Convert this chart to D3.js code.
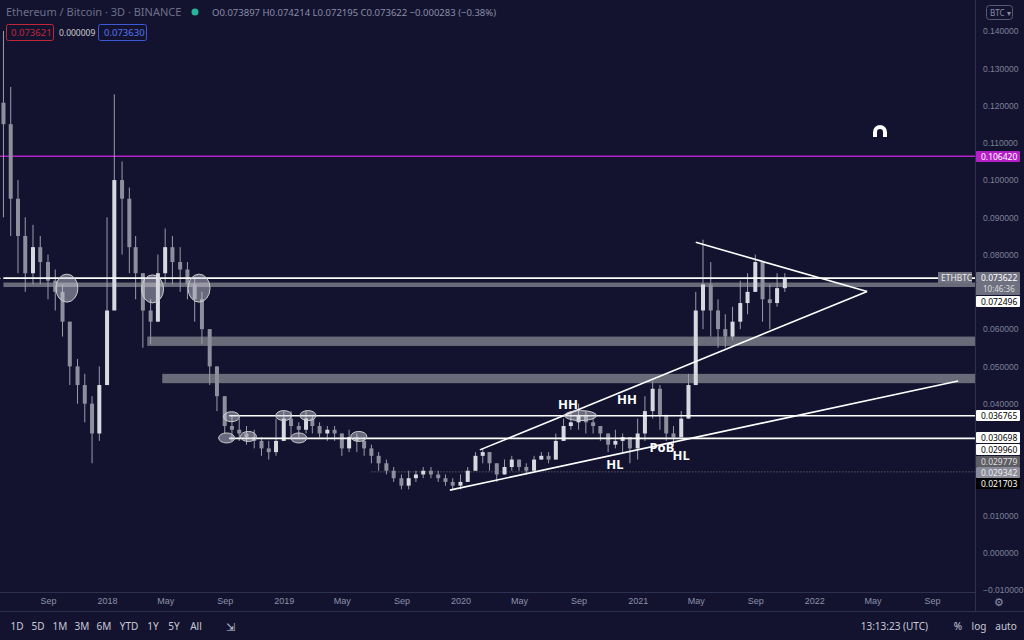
<!DOCTYPE html><html><head><meta charset="utf-8">
<script src="https://cdn.jsdelivr.net/npm/d3@7"></script>
<style>body{margin:0;background:#131330;overflow:hidden}svg{display:block;font-family:"Noto Sans",sans-serif}</style></head><body>
<svg id="c" width="1024" height="640"></svg>
<script>
const dates=["2017-06-01","2017-06-16","2017-07-01","2017-07-16","2017-08-01","2017-08-16","2017-09-01","2017-09-16","2017-10-01","2017-10-16","2017-11-01","2017-11-16","2017-12-01","2017-12-16",
"2018-01-01","2018-01-16","2018-02-01","2018-02-16","2018-03-01","2018-03-16","2018-04-01","2018-04-16","2018-05-01","2018-05-16","2018-06-01","2018-06-16","2018-07-01","2018-07-16","2018-08-01","2018-08-16","2018-09-01","2018-09-16","2018-10-01","2018-10-16","2018-11-01","2018-11-16","2018-12-01","2018-12-16",
"2019-01-01","2019-01-16","2019-02-01","2019-02-16","2019-03-01","2019-03-16","2019-04-01","2019-04-16","2019-05-01","2019-05-16","2019-06-01","2019-06-16","2019-07-01","2019-07-16","2019-08-01","2019-08-16","2019-09-01","2019-09-16","2019-10-01","2019-10-16","2019-11-01","2019-11-16","2019-12-01","2019-12-16",
"2020-01-01","2020-01-16","2020-02-01","2020-02-16","2020-03-01","2020-03-16","2020-04-01","2020-04-16","2020-05-01","2020-05-16","2020-06-01","2020-06-16","2020-07-01","2020-07-16","2020-08-01","2020-08-16","2020-09-01","2020-09-16","2020-10-01","2020-10-16","2020-11-01","2020-11-16","2020-12-01","2020-12-16",
"2021-01-01","2021-01-16","2021-02-01","2021-02-16","2021-03-01","2021-03-16","2021-04-01","2021-04-16","2021-05-01","2021-05-16","2021-06-01","2021-06-16","2021-07-01","2021-07-16","2021-08-01","2021-08-16","2021-09-01","2021-09-16","2021-10-01","2021-10-16","2021-11-01"];
const closes=[.115,.095,.085,.075,.082,.078,.073,.070,.062,.050,.045,.040,.032,.045,
.065,.100,.095,.082,.075,.065,.062,.075,.082,.078,.076,.072,.068,.060,.050,.042,.034,.033,.032,.031,.030,.028,.027,.030,
.036,.034,.033,.036,.034,.032,.033,.032,.028,.031,.030,.028,.026,.024,.022,.020,.018,.020,.021,.022,.021,.020,.019,.018,
.019,.022,.026,.027,.024,.021,.023,.025,.023,.022,.025,.026,.025,.030,.034,.035,.037,.035,.034,.032,.029,.030,.031,.028,
.032,.038,.044,.037,.032,.031,.036,.045,.065,.072,.065,.060,.058,.062,.067,.070,.078,.068,.067,.071,.0736];
const highs=[.140,.125,.100,.090,.088,.085,.080,.076,.072,.062,.052,.048,.042,.050,
.090,.123,.105,.098,.085,.075,.068,.080,.087,.085,.082,.078,.074,.070,.060,.050,.042,.037,.036,.034,.033,.031,.030,.036,
.038,.038,.035,.038,.037,.035,.034,.034,.032,.033,.032,.031,.029,.027,.025,.023,.021,.022,.022,.023,.023,.022,.021,.020,
.021,.023,.027,.028,.027,.024,.025,.026,.025,.024,.026,.027,.027,.032,.036,.038,.040,.038,.036,.034,.032,.033,.032,.031,
.036,.042,.046,.045,.037,.034,.038,.048,.070,.084,.078,.068,.064,.066,.073,.075,.080,.076,.072,.075,.075];
const lows=[.090,.085,.075,.070,.072,.072,.068,.065,.058,.045,.040,.035,.024,.030,
.045,.085,.080,.075,.068,.055,.056,.062,.072,.072,.070,.068,.062,.056,.045,.038,.032,.030,.030,.029,.028,.026,.025,.026,
.030,.031,.031,.032,.032,.031,.030,.030,.026,.027,.027,.026,.024,.022,.021,.019,.017,.017,.019,.020,.020,.019,.018,.017,
.017,.019,.022,.024,.022,.019,.021,.022,.022,.021,.022,.025,.024,.025,.030,.033,.033,.032,.032,.030,.027,.028,.027,.024,
.025,.030,.036,.033,.030,.029,.031,.036,.045,.060,.058,.055,.055,.057,.060,.064,.070,.062,.060,.066,.070];
const yTicks=[0.14,0.13,0.12,0.11,0.10,0.09,0.08,0.06,0.05,0.04,0.01,0,-0.01];
const xTickDates=["2017-09-01","2018-01-01","2018-05-01","2018-09-01","2019-01-01","2019-05-01","2019-09-01","2020-01-01","2020-05-01","2020-09-01","2021-01-01","2021-05-01","2021-09-01","2022-01-01","2022-05-01","2022-09-01"];
const zones=[[ "2017-06-01",0.0713,0.0725],["2018-03-25",0.0555,0.0580],["2018-04-25",0.0455,0.0480]];
const hLines=[["2017-06-01",0.0737],["2018-09-10",0.036765],["2018-09-10",0.030698]];
const trendLines=[["2019-12-10",0.0168,"2022-10-25",0.0461],["2020-02-10",0.0276,"2022-04-20",0.0701],["2021-05-01",0.0833,"2022-04-20",0.0701]];
const ellipses=[["2017-10-10",0.0710,11,14],["2018-04-05",0.0708,11,14],["2018-07-10",0.0710,11,14],["2018-09-15",0.0365,8,5],["2019-01-01",0.0368,8,5],["2019-02-20",0.0368,8,5],["2018-09-05",0.0308,8,5],["2018-10-20",0.0312,8,5],["2019-02-01",0.0308,8,5],["2019-06-05",0.0312,8,5],["2020-09-05",0.0368,16,5]];
const notes=[["HH","2020-08-10",0.0385],["HH","2020-12-10",0.0400],["HL","2020-11-15",0.0225],["PoB","2021-02-20",0.0270],["HL","2021-04-01",0.0250]];
const priceTags=[[0.10642,"#b41fc8","#fff"],[0.073622,"#6f7080","#fff"],[0.072496,"#ffffff","#000"],[0.036765,"#ffffff","#000"],[0.030698,"#ffffff","#000"],[0.029960,"#ffffff","#000"],[0.029779,"#5d5d63","#ddd"],[0.029342,"#8a8c99","#eee"],[0.021703,"#000000","#fff"]];
const tagTops=[151,272,296,410,432,444,456,467,478];

const P=d3.timeParse("%Y-%m-%d");
const x=d3.scaleTime().domain([P("2017-09-01"),P("2022-09-01")]).range([48,932]);
const y=d3.scaleLinear().domain([-0.01,0.14]).range([590,31]);
const svg=d3.select("#c");
svg.append("rect").attr("width",1024).attr("height",640).attr("fill","#131330");
const g=svg.append("g");
g.selectAll(".z").data(zones).join("rect").attr("x",d=>x(P(d[0]))).attr("width",d=>975-x(P(d[0]))).attr("y",d=>y(d[2])).attr("height",d=>y(d[1])-y(d[2])).attr("fill","#7a7b85").attr("opacity",0.85);
g.append("line").attr("x1",0).attr("x2",975).attr("y1",y(0.10642)).attr("y2",y(0.10642)).attr("stroke","#b41fc8").attr("stroke-width",1.5);
g.append("line").attr("x1",0).attr("x2",975).attr("y1",y(0.073622)).attr("y2",y(0.073622)).attr("stroke","#8a8ca0").attr("stroke-dasharray","1,2");
g.append("line").attr("x1",x(P("2019-07-01"))).attr("x2",975).attr("y1",y(0.021703)).attr("y2",y(0.021703)).attr("stroke","#777").attr("stroke-dasharray","1,2");
const cd=dates.map((d,i)=>({t:P(d),o:i?closes[i-1]:closes[i]*1.05,c:closes[i],h:highs[i],l:lows[i]}));
const cg=g.append("g");
cg.selectAll("line").data(cd).join("line").attr("x1",d=>x(d.t)).attr("x2",d=>x(d.t)).attr("y1",d=>y(d.h)).attr("y2",d=>y(d.l)).attr("stroke","#9a9ca8").attr("stroke-width",1);
cg.selectAll("rect").data(cd).join("rect").attr("x",d=>x(d.t)-2).attr("width",4).attr("y",d=>y(Math.max(d.o,d.c))).attr("height",d=>Math.max(1,Math.abs(y(d.o)-y(d.c)))).attr("fill",d=>d.c>=d.o?"#d8d9e0":"#8d8f9c");
g.selectAll(".h").data(hLines).join("line").attr("x1",d=>x(P(d[0]))).attr("x2",975).attr("y1",d=>y(d[1])).attr("y2",d=>y(d[1])).attr("stroke","#fff").attr("stroke-width",1.6);
g.selectAll(".t").data(trendLines).join("line").attr("x1",d=>x(P(d[0]))).attr("y1",d=>y(d[1])).attr("x2",d=>x(P(d[2]))).attr("y2",d=>y(d[3])).attr("stroke","#fff").attr("stroke-width",1.6);
g.selectAll("ellipse").data(ellipses).join("ellipse").attr("cx",d=>x(P(d[0]))).attr("cy",d=>y(d[1])).attr("rx",d=>d[2]).attr("ry",d=>d[3]).attr("fill","rgba(210,210,220,0.45)").attr("stroke","#ccc").attr("stroke-width",1);
g.selectAll(".n").data(notes).join("text").attr("x",d=>x(P(d[1]))).attr("y",d=>y(d[2])).attr("fill","#ffffff").attr("font-size",13).attr("font-weight","bold").attr("text-anchor","middle").text(d=>d[0]);
g.append("path").attr("d","M873,137 v-5 a7,7 0 0 1 14,0 v5 h-4 v-5 a3,3 0 0 0 -6,0 v5 z").attr("fill","#fff");
svg.append("line").attr("x1",975.5).attr("x2",975.5).attr("y1",0).attr("y2",612).attr("stroke","#2e3050");
svg.append("line").attr("x1",0).attr("x2",975).attr("y1",592.5).attr("y2",592.5).attr("stroke","#2e3050");
svg.append("line").attr("x1",0).attr("x2",1024).attr("y1",611.5).attr("y2",611.5).attr("stroke","#2e3050");
const ya=svg.append("g").attr("transform","translate(975,0)").call(d3.axisRight(y).tickValues(yTicks).tickSize(0).tickPadding(8).tickFormat(d3.format(".6f")));
ya.select(".domain").remove();ya.selectAll("text").attr("fill","#7d8196").attr("font-size",8.5);
const xa=svg.append("g").attr("transform","translate(0,602)").call(d3.axisBottom(x).tickValues(xTickDates.map(P)).tickSize(0).tickPadding(-4).tickFormat(d=>d.getMonth()==0?d3.timeFormat("%Y")(d):d3.timeFormat("%b")(d)));
xa.select(".domain").remove();xa.selectAll("text").attr("fill","#8d91a8").attr("font-size",9);
const tg=svg.selectAll(".pt").data(priceTags).join("g").attr("transform",(d,i)=>`translate(976,${tagTops[i]})`);
tg.append("rect").attr("width",44).attr("height",11).attr("fill",d=>d[1]).attr("rx",1);
tg.append("text").attr("x",5).attr("y",9).attr("font-size",8.5).attr("fill",d=>d[2]).text(d=>d[0].toFixed(6));
svg.append("rect").attr("x",976).attr("y",283).attr("width",44).attr("height",12).attr("fill","#6f7080");
svg.append("text").attr("x",983).attr("y",292).attr("font-size",8).attr("fill","#ddd").text("10:46:36");
svg.append("rect").attr("x",938).attr("y",272).attr("width",34).attr("height",11).attr("fill","#6f7080");
svg.append("text").attr("x",941).attr("y",281).attr("font-size",8.5).attr("fill","#eee").text("ETHBTC");
svg.append("text").attr("x",6).attr("y",16).attr("font-size",11).attr("fill","#6c7088").text("Ethereum / Bitcoin · 3D · BINANCE");
svg.append("circle").attr("cx",195).attr("cy",12).attr("r",3.5).attr("fill","#26b59a");
svg.append("text").attr("x",212).attr("y",16).attr("font-size",9.5).attr("fill","#8a8ea6").text("O0.073897  H0.074214  L0.072195  C0.073622  −0.000283 (−0.38%)");
svg.append("rect").attr("x",6.5).attr("y",24.5).attr("width",47).attr("height",16).attr("rx",2).attr("fill","none").attr("stroke","#c0283a");
svg.append("text").attr("x",11).attr("y",36).attr("font-size",9.5).attr("fill","#c0283a").text("0.073621");
svg.append("text").attr("x",59).attr("y",36).attr("font-size",8.5).attr("fill","#ccc").text("0.000009");
svg.append("rect").attr("x",98.5).attr("y",24.5).attr("width",48).attr("height",16).attr("rx",2).attr("fill","none").attr("stroke","#3c5ad8");
svg.append("text").attr("x",104).attr("y",36).attr("font-size",9.5).attr("fill","#5474f0").text("0.073630");
svg.append("rect").attr("x",986.5).attr("y",5.5).attr("width",26).attr("height",14).attr("rx",3).attr("fill","none").attr("stroke","#555a70");
svg.append("text").attr("x",990).attr("y",16).attr("font-size",8).attr("fill","#8a8ea6").text("BTC ▾");
const btn=["1D","5D","1M","3M","6M","YTD","1Y","5Y","All"];const bx=[17,38,60,82,104,129,153,174,196];
svg.selectAll(".b").data(btn).join("text").attr("x",(d,i)=>bx[i]).attr("y",630).attr("font-size",10).attr("text-anchor","middle").attr("fill","#c8cad6").text(d=>d);
svg.append("text").attr("x",226).attr("y",631).attr("font-size",11).attr("fill","#c8cad6").text("⇲");
svg.append("text").attr("x",928).attr("y",630).attr("font-size",10).attr("text-anchor","end").attr("fill","#c8cad6").text("13:13:23 (UTC)");
svg.append("text").attr("x",958).attr("y",630).attr("font-size",10).attr("text-anchor","middle").attr("fill","#c8cad6").text("%");
svg.append("text").attr("x",979).attr("y",630).attr("font-size",10).attr("text-anchor","middle").attr("fill","#c8cad6").text("log");
svg.append("text").attr("x",1006).attr("y",630).attr("font-size",10).attr("text-anchor","middle").attr("fill","#c8cad6").text("auto");
svg.append("text").attr("x",999).attr("y",606).attr("font-size",11).attr("text-anchor","middle").attr("fill","#8a8ea6").text("⚙");
</script></body></html>
